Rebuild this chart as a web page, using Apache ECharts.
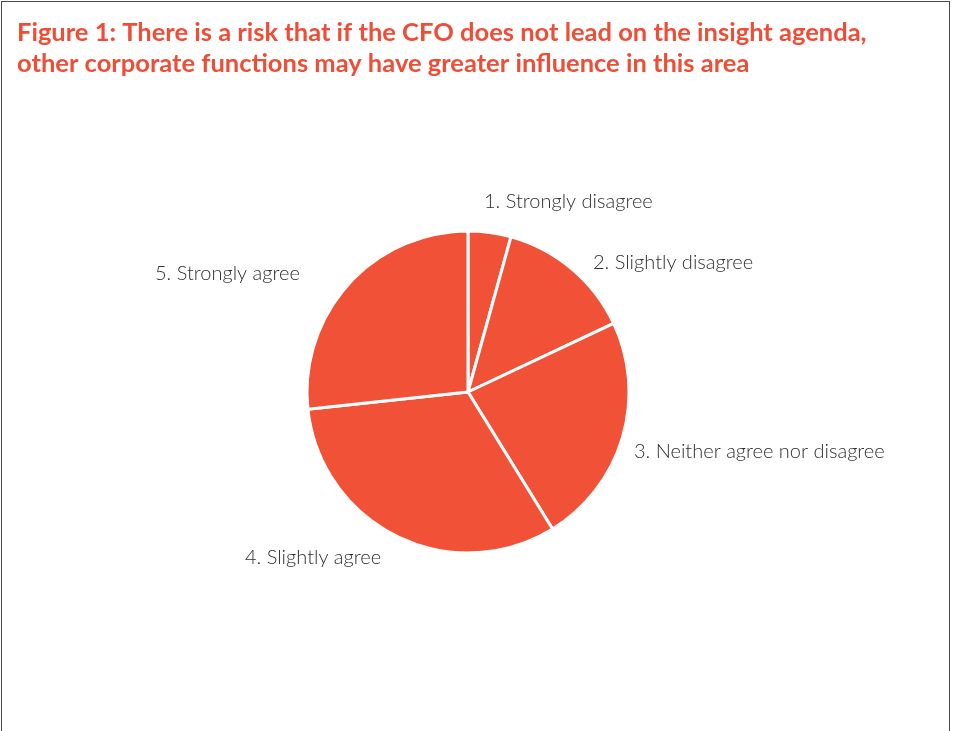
<!DOCTYPE html>
<html>
<head>
<meta charset="utf-8">
<script src="https://cdn.jsdelivr.net/npm/echarts@6/dist/echarts.min.js"></script>
<style>
html,body{margin:0;padding:0;background:#fff;}
#frame{position:absolute;left:1px;top:1px;width:949px;height:760px;border:1px solid #4a4a4a;box-sizing:border-box;}
#chart{position:absolute;left:0;top:0;width:953px;height:731px;}
</style>
</head>
<body>
<div id="frame"></div>
<div id="chart"></div>
<script>
var titleLines = ['Figure 1: There is a risk that if the CFO does not lead on the insight agenda,',
                  'other corporate functions may have greater influence in this area'];
var categories = ['1. Strongly disagree','2. Slightly disagree','3. Neither agree nor disagree','4. Slightly agree','5. Strongly agree'];
var values = [4.3, 13.7, 23.2, 32.1, 26.7];

// label anchor points (left edge, vertical middle) — layout only
var labelPos = [[484,202],[593,263],[634,452],[245,558],[155,274]];

var chart = echarts.init(document.getElementById('chart'));
chart.setOption({
  backgroundColor: 'transparent',
  animation: false,
  title: {
    text: titleLines.join('\n'),
    left: 12, top: 13,
    textStyle: {color:'#EF4D36', fontFamily:'Lato', fontWeight:'bold', fontSize:25.5, lineHeight:30.5}
  },
  series: [{
    type: 'pie',
    center: [468, 392],
    radius: [0, 161],
    startAngle: 90,
    clockwise: true,
    data: categories.map(function(c,i){return {name:c, value:values[i]};}),
    itemStyle: {color:'#F05137', borderColor:'#fff', borderWidth:3},
    label: {show:true, position:'outside', formatter:'{b}', color:'#2e2e2e', fontFamily:'Lato', fontWeight:300, fontSize:20},
    labelLine: {show:false},
    labelLayout: function(p){
      var q = labelPos[p.dataIndex];
      return {x:q[0], y:q[1], align:'left', verticalAlign:'middle'};
    },
    emphasis: {disabled:true}
  }]
});
</script>
</body>
</html>
